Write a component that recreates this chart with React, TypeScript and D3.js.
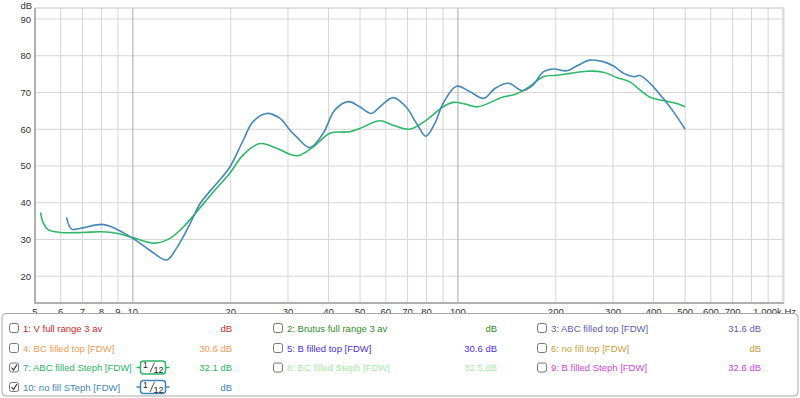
import React from "react";
import * as d3 from "d3";

const xTickValues = [5, 6, 7, 8, 9, 10, 20, 30, 40, 50, 60, 70, 80, 100, 200, 300, 400, 500, 600, 700];
const xTickLabels = ["5", "6", "7", "8", "9", "10", "20", "30", "40", "50", "60", "70", "80", "100", "200", "300", "400", "500", "600", "700"];
const gridFreqs = [6, 7, 8, 9, 10, 20, 30, 40, 50, 60, 70, 80, 90, 100, 200, 300, 400, 500, 600, 700, 800, 900];
const majorFreqs = [10, 100];
const yTickValues = [20, 30, 40, 50, 60, 70, 80, 90];

const greenFreq = [5.2, 5.3, 5.5, 6, 7, 8, 9, 10, 11.7, 13.0, 14.3, 15.7, 17.7, 19.9, 21.85, 24.6, 27.7, 30.4, 32.3, 35.9, 40.4, 46.5, 49.9, 57.5, 63.2, 71.1, 80, 90, 96.7, 106, 115, 137, 151, 166, 183, 202, 222, 249, 280, 308, 338, 363, 390, 428, 471, 500];
const greenDb = [37.4, 34.5, 32.6, 31.9, 31.9, 32.1, 31.6, 30.5, 29.0, 30.3, 33.4, 37.5, 43.0, 48.1, 53.0, 56.1, 54.8, 53.2, 52.8, 55.2, 58.9, 59.3, 60.2, 62.3, 61.1, 60.0, 62.5, 66.1, 67.3, 66.8, 66.1, 68.7, 69.6, 71.6, 74.3, 74.7, 75.2, 75.8, 75.5, 74.1, 72.9, 70.7, 68.7, 67.8, 67.0, 66.1];

const blueFreq = [6.25, 6.48, 6.87, 8, 8.5, 10, 11.3, 12.7, 13.6, 15.0, 16.1, 18.1, 19.9, 21.85, 23.4, 25.8, 28.3, 30.4, 31.9, 35.0, 38.5, 41.8, 46.0, 49.9, 54.2, 57.5, 63.2, 69.2, 74.6, 79.7, 84.9, 90, 99, 109, 120, 130, 143, 158, 170, 183, 197, 216, 232, 254, 280, 301, 324, 348, 363, 390, 428, 460, 500];
const blueDb = [36.0, 32.8, 33.0, 34.1, 33.6, 30.3, 27.0, 24.4, 27.5, 34.3, 39.8, 45.2, 49.8, 57.0, 62.0, 64.3, 63.0, 59.8, 57.9, 55.0, 58.9, 65.2, 67.5, 66.1, 64.3, 66.1, 68.6, 66.1, 61.6, 58.1, 61.6, 67.0, 71.7, 70.2, 68.4, 71.1, 72.5, 70.5, 72.0, 75.6, 76.4, 75.9, 77.2, 78.8, 78.4, 77.2, 75.2, 74.3, 74.6, 72.5, 68.4, 64.8, 60.0];

const legendNames = [
  "1: V full range 3 av", "2: Brutus full range 3 av", "3: ABC filled top [FDW]",
  "4: BC filled top [FDW]", "5: B filled top [FDW]", "6: no fill top [FDW]",
  "7: ABC filled Steph [FDW]", "8: BC filled Steph [FDW]", "9: B filled Steph [FDW]",
  "10: no fill STeph [FDW]",
];
const legendValues = ["dB", "dB", "31.6 dB", "30.6 dB", "30.6 dB", "dB", "32.1 dB", "32.5 dB", "32.6 dB", "dB"];
const legendColors = ["#c62a2a", "#2f8a2a", "#5a5db0", "#f29a52", "#4a2ee0", "#c9a03a", "#2db466", "#a8eca8", "#cf48de", "#3f86b6"];
const legendChecked = [false, false, false, false, false, false, true, false, false, true];

const FONT = "'Liberation Sans', Arial, sans-serif";
const FS = 9.5;

export default function App() {
  const W = 800, H = 398;
  const L = 35, R = 783, T = 8, B = 303;
  const x = d3.scaleLog().domain([5, 1000]).range([L, R]);
  const y = d3.scaleLinear().domain([90, 20]).range([19, 276.2]);

  const line = d3.line<[number, number]>()
    .x((d) => x(d[0]))
    .y((d) => y(d[1]))
    .curve(d3.curveCatmullRom.alpha(0.5));

  const greenPts = greenFreq.map((f, i) => [f, greenDb[i]] as [number, number]);
  const bluePts = blueFreq.map((f, i) => [f, blueDb[i]] as [number, number]);

  const colX = [9, 273, 537];
  const valX = [232, 497, 761];
  const rowY = [328, 348, 367.5, 387];

  const badge = (cx: number, cy: number, color: string) => (
    <g>
      <line x1={cx - 16.5} x2={cx - 12.5} y1={cy} y2={cy} stroke={color} strokeWidth={1.5} />
      <line x1={cx + 12.5} x2={cx + 16.5} y1={cy} y2={cy} stroke={color} strokeWidth={1.5} />
      <rect x={cx - 12.5} y={cy - 6.5} width={25} height={13} rx={3} fill="white" stroke={color} strokeWidth={1.5} />
      <text x={cx - 10} y={cy + 0.5} fontSize={8.5} fill="#222" fontFamily={FONT}>1</text>
      <line x1={cx - 3} y1={cy + 5} x2={cx + 1.5} y2={cy - 5} stroke="#222" strokeWidth={0.8} />
      <text x={cx + 0.5} y={cy + 5.5} fontSize={9} fill="#222" fontFamily={FONT}>12</text>
    </g>
  );

  return (
    <svg width={W} height={H} style={{ position: "absolute", left: 0, top: 0, background: "white" }} fontFamily={FONT}>
      <rect x={0} y={0} width={W} height={H} fill="white" />
      {yTickValues.map((v) => (
        <line key={"h" + v} x1={L} x2={R} y1={y(v)} y2={y(v)} stroke="#d6d6d6" strokeWidth={1} />
      ))}
      {gridFreqs.map((f) => (
        <line key={"v" + f} x1={x(f)} x2={x(f)} y1={T} y2={B} stroke={majorFreqs.includes(f) ? "#a9a9a9" : "#d6d6d6"} strokeWidth={1} />
      ))}
      <rect x={L} y={T} width={R - L} height={B - T} fill="none" stroke="#c4c4c4" strokeWidth={1} />
      <line x1={L} x2={L} y1={T} y2={B + 1} stroke="#b0b0b0" strokeWidth={2} />
      <line x1={L} x2={R + 1} y1={B} y2={B} stroke="#b0b0b0" strokeWidth={2} />
      <line x1={R + 1} x2={R + 1} y1={T} y2={B} stroke="#d8d8d8" strokeWidth={1} />
      {yTickValues.map((v) => (
        <text key={"yl" + v} x={31} y={y(v) + 3.5} fontSize={FS} textAnchor="end" fill="#333">{v}</text>
      ))}
      <text x={32} y={8.5} fontSize={FS} textAnchor="end" fill="#333">dB</text>
      {xTickValues.map((f, i) => (
        <text key={"xl" + f} x={x(f)} y={315} fontSize={FS} textAnchor="middle" fill="#333">{xTickLabels[i]}</text>
      ))}
      <text x={796} y={315} fontSize={FS} textAnchor="end" fill="#333">1.000k Hz</text>
      <path d={line(greenPts) || ""} fill="none" stroke="#30b86a" strokeWidth={1.6} />
      <path d={line(bluePts) || ""} fill="none" stroke="#4588b6" strokeWidth={1.6} />
      <rect x={2} y={313.5} width={796} height={82.5} rx={4} fill="white" stroke="#a8a8a8" strokeWidth={1} />
      {legendNames.map((name, i) => {
        const col = i % 3;
        const row = Math.floor(i / 3);
        const cy = rowY[row];
        const cx = colX[col];
        const color = legendColors[i];
        return (
          <g key={"lg" + i}>
            <rect x={cx + 0.5} y={cy - 4.5} width={9} height={9} rx={2} fill="white" stroke="#777" strokeWidth={1} />
            {legendChecked[i] && (
              <path d={`M${cx + 2.5},${cy} L${cx + 4.5},${cy + 2.5} L${cx + 8},${cy - 3}`} fill="none" stroke="#333" strokeWidth={1.2} />
            )}
            <text x={cx + 14} y={cy + 3.5} fontSize={FS} fill={color}>{name}</text>
            <text x={valX[col]} y={cy + 3.5} fontSize={FS} fill={color} textAnchor="end">{legendValues[i]}</text>
            {legendChecked[i] && badge(153, cy, color)}
          </g>
        );
      })}
    </svg>
  );
}
